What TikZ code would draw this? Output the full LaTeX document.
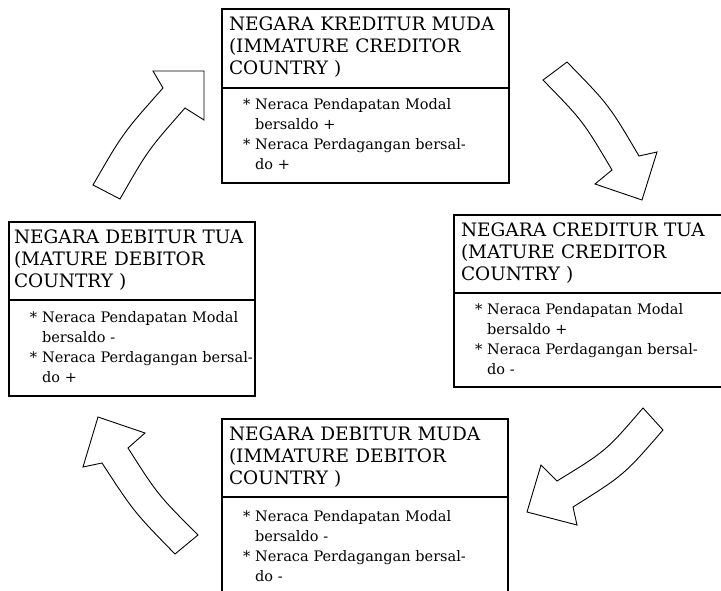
\documentclass[tikz,border=0pt]{standalone}
\usepackage{fontspec}
\setmainfont{DejaVu Serif}
\usetikzlibrary{positioning}

% three title lines of a box
\newcommand{\judul}[3]{\begin{tabular}{@{}l@{}}#1\\#2\\#3\end{tabular}}
% the two balances of a country
\newcommand{\neraca}[2]{\begin{tabular}{@{}l@{\ }l@{}}
{*}&Neraca Pendapatan Modal\\
 &bersaldo #1\\
{*}&Neraca Perdagangan bersal-\\
 &do #2\end{tabular}}

\begin{document}
\begin{tikzpicture}[x=1pt,y=-1pt,line join=miter,
    head/.style={draw,line width=1.1pt,outer sep=0pt,inner xsep=7pt,inner ysep=0pt,align=left,anchor=north west,font=\fontsize{18.5pt}{22pt}\selectfont},
    body/.style={draw,line width=1.1pt,outer sep=0pt,inner xsep=21pt,inner ysep=0pt,align=left,font=\fontsize{14.5pt}{20pt}\selectfont},
    panah/.style={draw,line width=0.9pt,fill=white}]
\useasboundingbox (0,0) rectangle (721,591);

% top box
\node[head,text width=273pt,minimum height=79pt] (kmuda) at (222,9)
    {\judul{NEGARA KREDITUR MUDA}{(IMMATURE CREDITOR}{COUNTRY )}};
\node[body,text width=245pt,minimum height=95pt,below=0pt of kmuda] (kmudab) {\neraca{+}{+}};

% right box
\node[head,text width=257pt,minimum height=78pt] (ktua) at (454,215)
    {\judul{NEGARA CREDITUR TUA}{(MATURE CREDITOR}{COUNTRY )}};
\node[body,text width=229pt,minimum height=94pt,below=0pt of ktua] (ktuab) {\neraca{+}{-}};

% bottom box
\node[head,text width=272pt,minimum height=78pt] (dmuda) at (222,419)
    {\judul{NEGARA DEBITUR MUDA}{(IMMATURE DEBITOR}{COUNTRY )}};
\node[body,text width=244pt,minimum height=100pt,below=0pt of dmuda] (dmudab) {\neraca{-}{-}};

% left box
\node[head,text width=236pt,minimum height=78pt,inner xsep=5pt] (dtua) at (9,222)
    {\judul{NEGARA DEBITUR TUA}{(MATURE DEBITOR}{COUNTRY )}};
\node[body,text width=204pt,minimum height=96pt,below=0pt of dtua] (dtuab) {\neraca{-}{+}};

% block arrows round the cycle
\draw[panah] (93,185) .. controls (123,133) .. (163,88) -- (153,71) -- (204,71)
    -- (204,120) -- (185,108) .. controls (148,150) .. (120,199) -- cycle;
\draw[panah] (543,80) .. controls (583,121) .. (612,170) -- (595,184) -- (642,200)
    -- (657,152) -- (639,156) .. controls (609,105) .. (567,62) -- cycle;
\draw[panah] (643,408) .. controls (606,451) .. (557,481) -- (541,465) -- (527,512)
    -- (577,525) -- (573,507) .. controls (624,475) .. (663,430) -- cycle;
\draw[panah] (175,554) .. controls (134,512) .. (102,463) -- (83,467) -- (98,417)
    -- (145,433) -- (128,448) .. controls (158,495) .. (198,535) -- cycle;
\end{tikzpicture}
\end{document}
